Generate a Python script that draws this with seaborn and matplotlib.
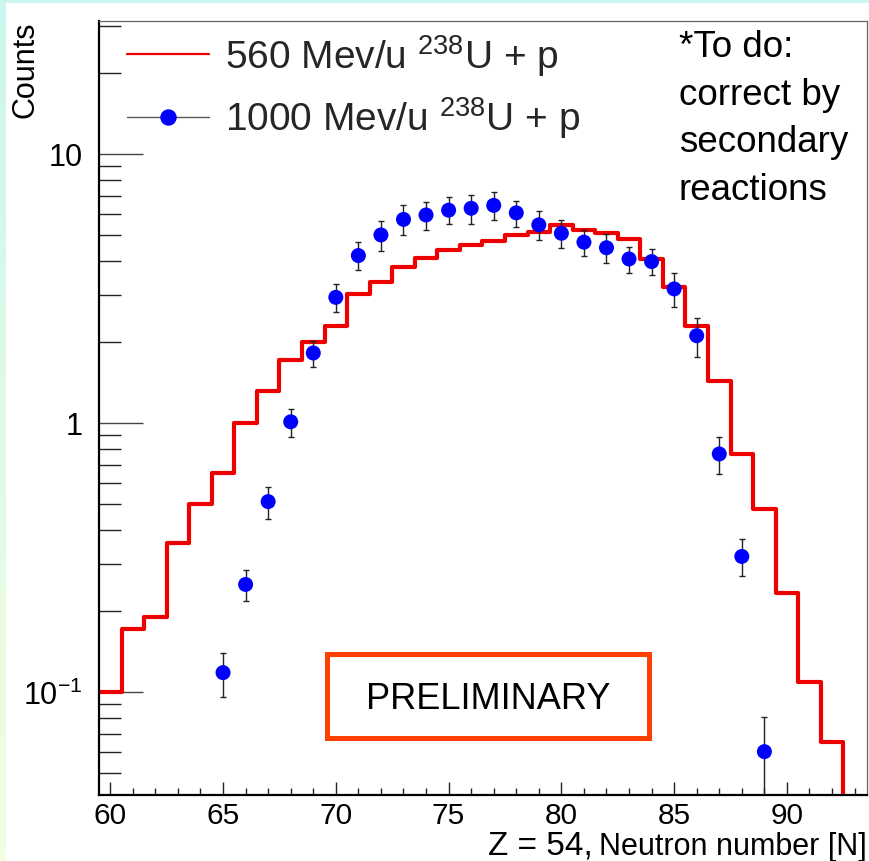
import numpy as np
import pandas as pd
import matplotlib
matplotlib.use("Agg")
import matplotlib.pyplot as plt
import seaborn as sns
from matplotlib.lines import Line2D
from matplotlib.patches import Rectangle
from matplotlib.ticker import FixedLocator, NullFormatter, MultipleLocator, LogLocator

# ---------------- data ----------------
neutron_560 = list(range(60, 94))
counts_560 = [0.100, 0.171, 0.190, 0.358, 0.499, 0.650, 1.00, 1.31, 1.71, 2.00,
              2.29, 3.01, 3.35, 3.80, 4.10, 4.41, 4.59, 4.76, 5.00, 5.14,
              5.43, 5.23, 5.08, 4.82, 4.07, 3.19, 2.29, 1.43, 0.767, 0.478,
              0.233, 0.109, 0.065, 0.030]

neutron_1000 = list(range(65, 90))
counts_1000 = [0.118, 0.251, 0.51, 1.01, 1.82, 2.93, 4.19, 5.00, 5.71, 5.93,
               6.18, 6.28, 6.44, 6.04, 5.45, 5.07, 4.70, 4.48, 4.07, 3.98,
               3.15, 2.11, 0.767, 0.319, 0.060]
errors_1000 = [0.022, 0.033, 0.07, 0.12, 0.20, 0.35, 0.50, 0.65, 0.73, 0.71,
               0.71, 0.77, 0.77, 0.67, 0.66, 0.60, 0.52, 0.55, 0.45, 0.44,
               0.45, 0.35, 0.12, 0.05, 0.021]

label_560 = r"560 Mev/u $^{238}$U + p"
label_1000 = r"1000 Mev/u $^{238}$U + p"
x_ticks = [60, 65, 70, 75, 80, 85, 90]
y_ticks = [0.1, 1, 10]
y_tick_labels = [r"$10^{-1}$", "1", "10"]
y_title = "Counts"
x_title_main = "Z = 54,"
x_title_sub = "Neutron number [N]"
note_text = "*To do:\ncorrect by\nsecondary\nreactions"
stamp_text = "PRELIMINARY"

# ---------------- style ----------------
sns.set_theme(style="ticks")
plt.rcParams["font.family"] = ["Liberation Sans", "DejaVu Sans"]
plt.rcParams["mathtext.fontset"] = "custom"
plt.rcParams["mathtext.rm"] = "Liberation Sans"
plt.rcParams["mathtext.it"] = "Liberation Sans:italic"
plt.rcParams["mathtext.bf"] = "Liberation Sans:bold"

RED = "#ee0000"
BLUE = "#0000ff"
W, H = 870, 862


def fx(x):
    return x / W


def fy(y):
    return 1 - y / H


fig = plt.figure(figsize=(W / 100, H / 100), dpi=100)

# background gradient frame
bg = fig.add_axes([0, 0, 1, 1], zorder=-10)
grad = np.linspace(0, 1, 256)[:, None, None]
top_c = np.array([0.80, 0.965, 0.935])
bot_c = np.array([0.955, 0.995, 0.875])
img = top_c * (1 - grad) + bot_c * grad
img = np.repeat(img, 4, axis=1)
bg.imshow(img, aspect="auto", extent=[0, 1, 0, 1])
bg.add_patch(Rectangle((fx(6), 0), 1 - fx(6), fy(4), facecolor="white",
                       edgecolor="none", transform=bg.transAxes))
bg.set_axis_off()

ax = fig.add_axes([fx(99), fy(796), fx(867) - fx(99), fy(22) - fy(796)])
ax.set_facecolor("white")

df560 = pd.DataFrame({"N": neutron_560, "counts": counts_560})
sns.histplot(data=df560, x="N", weights="counts", discrete=True,
             element="step", fill=False, color=RED, linewidth=3.0, ax=ax,
             zorder=2)

ax.errorbar(neutron_1000, counts_1000, yerr=errors_1000, fmt="none",
            ecolor="#222222", elinewidth=1.0, capsize=2.5, capthick=1.0,
            zorder=3)
sns.scatterplot(x=neutron_1000, y=counts_1000, color=BLUE, s=10.8 ** 2,
                edgecolor="none", linewidth=0, ax=ax, zorder=4)

ax.set_yscale("log")
ax.set_xlim(59.5, 93.55)
ax.set_ylim(0.0414, 31.2)

ax.xaxis.set_major_locator(FixedLocator(x_ticks))
ax.xaxis.set_minor_locator(MultipleLocator(1))
ax.yaxis.set_major_locator(FixedLocator(y_ticks))
ax.set_yticklabels(y_tick_labels)
ax.yaxis.set_minor_locator(LogLocator(base=10, subs=np.arange(2, 10)))
ax.yaxis.set_minor_formatter(NullFormatter())

ax.tick_params(axis="both", which="both", direction="in", top=False,
               right=False, labelcolor="black")
ax.tick_params(axis="y", which="major", length=31.5, width=1.0,
               color="#444444", pad=12, labelsize=22)
ax.tick_params(axis="y", which="minor", length=15.8, width=1.0,
               color="#222222")
ax.tick_params(axis="x", which="major", length=9.4, width=1.0,
               color="#222222", pad=4.5, labelsize=21.5)
ax.tick_params(axis="x", which="minor", length=5.0, width=1.0,
               color="#222222")

for side in ["left", "bottom"]:
    ax.spines[side].set_color("black")
    ax.spines[side].set_linewidth(1.6)
for side in ["top", "right"]:
    ax.spines[side].set_color("#666666")
    ax.spines[side].set_linewidth(0.9)

ax.set_xlabel("")
ax.set_ylabel(y_title, fontsize=22, loc="top", color="black")
ax.yaxis.set_label_coords((41 - 99) / 768, 1.0)

# legend
h1 = Line2D([], [], color=RED, lw=1.6)
h2 = Line2D([], [], color="#555555", lw=1.0, marker="o",
            markerfacecolor=BLUE, markeredgecolor=BLUE, markersize=10.8)
ax.legend([h1, h2], [label_560, label_1000], loc="upper left",
          bbox_to_anchor=(fx(127), fy(33)), bbox_transform=fig.transFigure,
          frameon=False, fontsize=28, handlelength=2.1, handletextpad=0.42,
          labelspacing=0.43, borderpad=0, borderaxespad=0)

# note
fig.text(fx(679), fy(30), note_text, ha="left", va="top", fontsize=26.5,
         linespacing=1.47, color="black")

# preliminary stamp
fig.add_artist(Rectangle((fx(327.5), fy(738.5)), fx(649.5) - fx(327.5),
                         fy(654.5) - fy(738.5), transform=fig.transFigure,
                         fill=False, edgecolor="#ff4000", lw=3.6))
fig.text(fx(488), fy(709), stamp_text, ha="center", va="baseline",
         fontsize=26, color="black")

# x title
t_sub = fig.text(fx(867), fy(855), x_title_sub, ha="right", va="baseline",
                 fontsize=22, color="black")
fig.canvas.draw()
bb = t_sub.get_window_extent()
fig.text(bb.x0 / W - fx(6), fy(855), x_title_main, ha="right",
         va="baseline", fontsize=24, color="black")

fig.savefig("out.png", dpi=100)
